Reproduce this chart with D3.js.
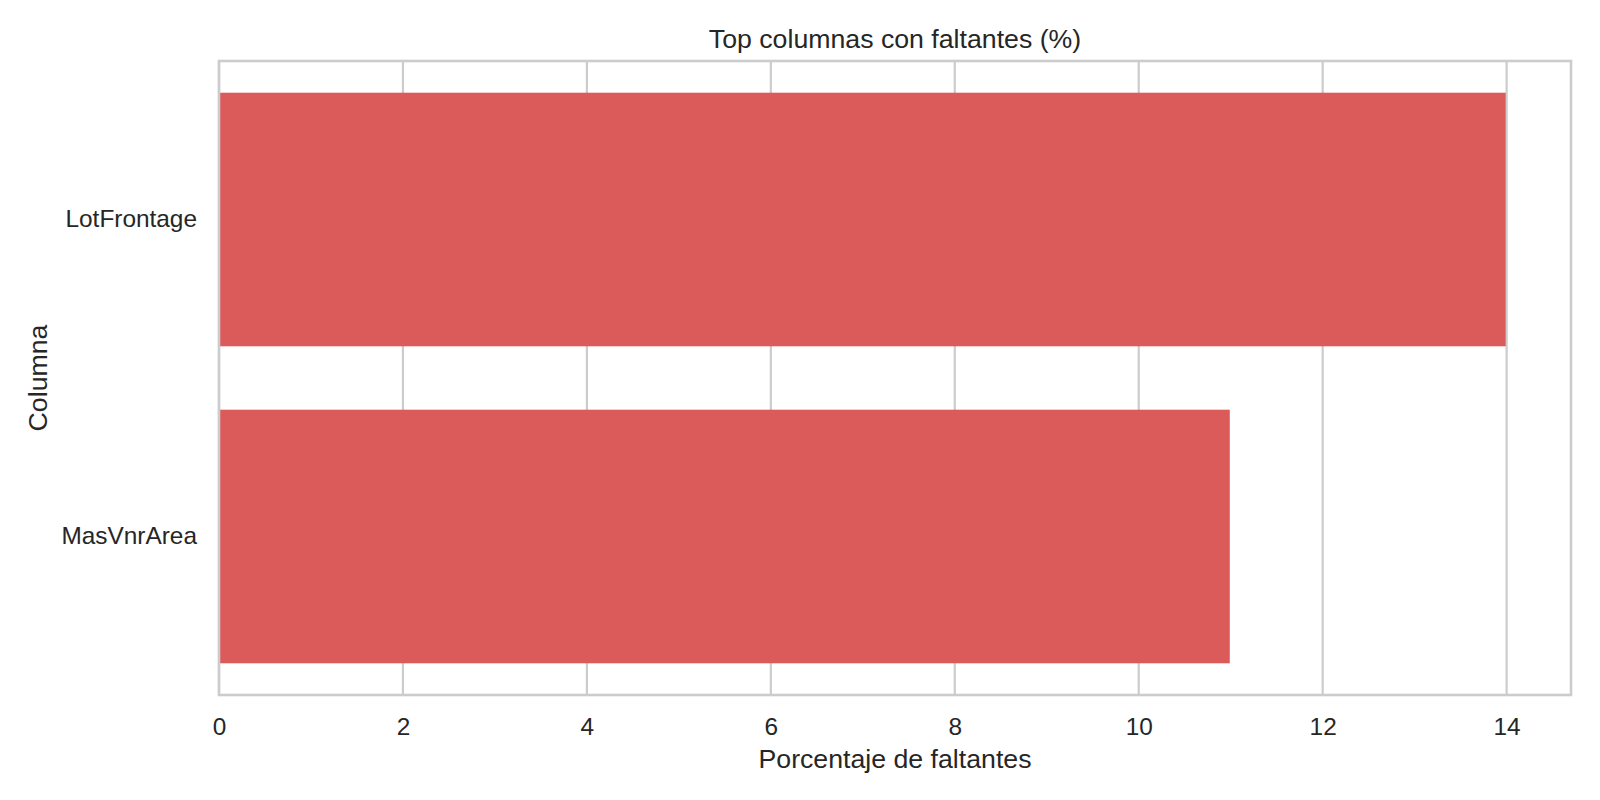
<!DOCTYPE html>
<html>
<head>
<meta charset="utf-8">
<script src="https://cdn.jsdelivr.net/npm/d3@7"></script>
<style>
  body { margin: 0; background: #fff; }
  text { font-family: "Liberation Sans", Arial, sans-serif; fill: #262626; }
</style>
</head>
<body>
<div id="chart"></div>
<script>
// data
const columns = ["LotFrontage", "MasVnrArea"];
const missingPct = [13.99, 10.99];
const xTicks = [0, 2, 4, 6, 8, 10, 12, 14];

const width = 1600;
const height = 800;
const margin = { top: 61, right: 29, bottom: 105, left: 219 };
const innerW = width - margin.left - margin.right;
const innerH = height - margin.top - margin.bottom;

const svg = d3
  .select("#chart")
  .append("svg")
  .attr("width", width)
  .attr("height", height);

const x = d3.scaleLinear().domain([0, 14.7]).range([0, innerW]);
const y = d3
  .scaleBand()
  .domain(columns)
  .range([0, innerH])
  .paddingInner(0.2)
  .paddingOuter(0.1);

const g = svg
  .append("g")
  .attr("transform", "translate(" + margin.left + "," + margin.top + ")");

// vertical grid
g.append("g")
  .selectAll("line")
  .data(xTicks)
  .enter()
  .append("line")
  .attr("x1", (d) => x(d))
  .attr("x2", (d) => x(d))
  .attr("y1", 0)
  .attr("y2", innerH)
  .attr("stroke", "#cccccc")
  .attr("stroke-width", 2.2);

// bars
g.selectAll("rect.bar")
  .data(columns)
  .enter()
  .append("rect")
  .attr("class", "bar")
  .attr("x", x(0))
  .attr("y", (d) => y(d))
  .attr("width", (d, i) => x(missingPct[i]) - x(0))
  .attr("height", y.bandwidth())
  .attr("fill", "#db5b5a");

// frame
g.append("rect")
  .attr("x", 0)
  .attr("y", 0)
  .attr("width", innerW)
  .attr("height", innerH)
  .attr("fill", "none")
  .attr("stroke", "#cccccc")
  .attr("stroke-width", 2.6);

// x axis
const xAxis = g
  .append("g")
  .attr("transform", "translate(0," + innerH + ")")
  .call(d3.axisBottom(x).tickValues(xTicks).tickSize(0).tickPadding(23));
xAxis.select(".domain").remove();
xAxis.selectAll("text").attr("font-size", 24.4).style("fill", "#262626")
  .attr("font-family", "Liberation Sans, Arial, sans-serif");

// y axis
const yAxis = g
  .append("g")
  .call(d3.axisLeft(y).tickSize(0).tickPadding(22));
yAxis.select(".domain").remove();
yAxis.selectAll("text").attr("font-size", 24.4).style("fill", "#262626")
  .attr("font-family", "Liberation Sans, Arial, sans-serif");

// labels
svg.append("text")
  .attr("x", margin.left + innerW / 2)
  .attr("y", 768)
  .attr("text-anchor", "middle")
  .attr("font-size", 26.7)
  .text("Porcentaje de faltantes");

svg.append("text")
  .attr("transform", "translate(47," + (margin.top + innerH / 2) + ") rotate(-90)")
  .attr("text-anchor", "middle")
  .attr("font-size", 26.7)
  .text("Columna");

svg.append("text")
  .attr("x", margin.left + innerW / 2)
  .attr("y", 48)
  .attr("text-anchor", "middle")
  .attr("font-size", 26.7)
  .text("Top columnas con faltantes (%)");
</script>
</body>
</html>
